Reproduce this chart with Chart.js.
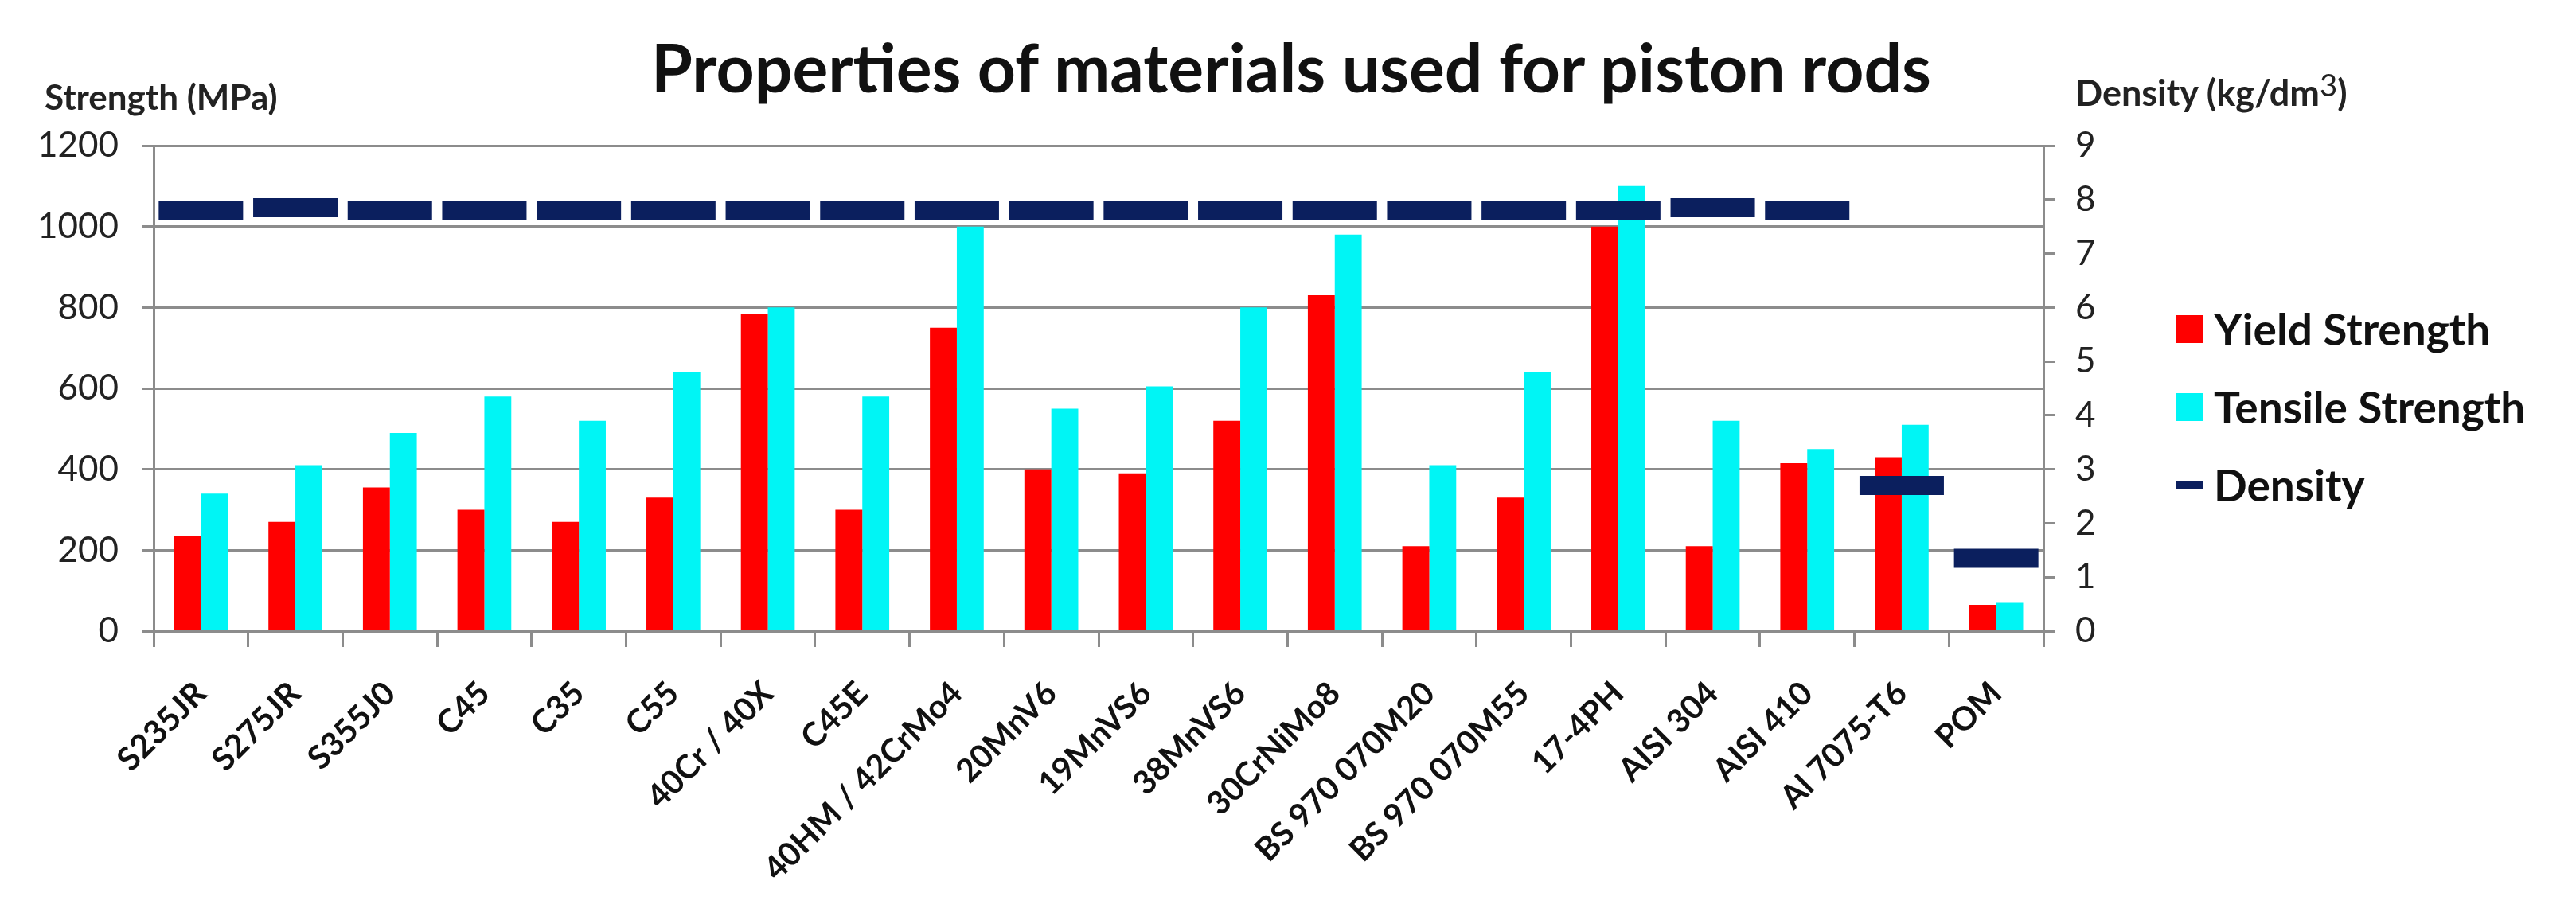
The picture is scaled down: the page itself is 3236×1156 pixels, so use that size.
<!DOCTYPE html>
<html>
<head>
<meta charset="utf-8">
<script src="https://cdn.jsdelivr.net/npm/chart.js@4.4.1/dist/chart.umd.min.js"></script>
<style>
  html, body { margin: 0; padding: 0; background: #fff; }
  #wrap { position: relative; width: 3236px; height: 1156px; font-family: Lato, "Noto Sans", sans-serif; color: #111; }
  #chart { position: absolute; left: 0; top: 0; }
  .lbl { position: absolute; white-space: nowrap; line-height: 1; transform: translateY(-50%); }
  #title { left: 1622px; top: 84px; font-size: 84px; font-weight: bold; transform: translate(-50%, -50%); }
  #yTitle { left: 56px; top: 121px; font-size: 44px; font-weight: bold; color: #222; }
  #y1Title { left: 2607px; top: 116px; font-size: 45px; font-weight: bold; color: #222; }
  #y1Title sup { font-size: 0.85em; vertical-align: 0.3em; line-height: 0; font-weight: normal; }
  .leg { position: absolute; left: 2734px; height: 40px; transform: translateY(-50%); display: flex; align-items: center; }
  .leg span.sw { display: inline-block; margin-right: 14px; }
  .leg span.tx { font-size: 55px; font-weight: bold; line-height: 1; }
</style>
</head>
<body>
<div id="wrap">
  <canvas id="chart" width="3236" height="1156"></canvas>
  <div id="title" class="lbl">Properties of materials used for piston rods</div>
  <div id="yTitle" class="lbl">Strength (MPa)</div>
  <div id="y1Title" class="lbl">Density (kg/dm<sup>3</sup>)</div>
  <div class="leg" style="top:413px"><span class="sw" style="width:33px;height:35px;background:#ff0000"></span><span class="tx">Yield Strength</span></div>
  <div class="leg" style="top:511px"><span class="sw" style="width:33px;height:35px;background:#00f5f5"></span><span class="tx">Tensile Strength</span></div>
  <div class="leg" style="top:609px"><span class="sw" style="width:33px;height:10px;background:#0b1f5e"></span><span class="tx">Density</span></div>
</div>
<script>
// materials and measured values
const materials = ['S235JR', 'S275JR', 'S355J0', 'C45', 'C35', 'C55', '40Cr / 40X', 'C45E',
  '40HM / 42CrMo4', '20MnV6', '19MnVS6', '38MnVS6', '30CrNiMo8', 'BS 970 070M20',
  'BS 970 070M55', '17-4PH', 'AISI 304', 'AISI 410', 'Al 7075-T6', 'POM'];
const yieldStrength = [235, 270, 355, 300, 270, 330, 785, 300, 750, 400, 390, 520, 830, 210, 330, 1000, 210, 415, 430, 65];
const tensileStrength = [340, 410, 490, 580, 520, 640, 800, 580, 1000, 550, 605, 800, 980, 410, 640, 1100, 520, 450, 510, 70];
const density = [7.8, 7.85, 7.8, 7.8, 7.8, 7.8, 7.8, 7.8, 7.8, 7.8, 7.8, 7.8, 7.8, 7.8, 7.8, 7.8, 7.85, 7.8, 2.7, 1.35];
const strengthTicks = [0, 200, 400, 600, 800, 1000, 1200];
const densityTicks = [0, 1, 2, 3, 4, 5, 6, 7, 8, 9];

const gridGrey = '#8c8c8c';

document.addEventListener('DOMContentLoaded', () => {
  const ctx = document.getElementById('chart').getContext('2d');
  new Chart(ctx, {
    data: {
      labels: materials,
      datasets: [
        {
          type: 'line',
          label: 'Density',
          data: density,
          yAxisID: 'y1',
          showLine: false,
          pointStyle: 'line',
          pointRadius: 53,
          pointHoverRadius: 53,
          pointBorderWidth: 24,
          pointBorderColor: '#0b1f5e',
          pointBackgroundColor: '#0b1f5e',
          clip: false,
          order: 0
        },
        {
          type: 'bar',
          label: 'Yield Strength',
          data: yieldStrength,
          yAxisID: 'y',
          backgroundColor: '#ff0000',
          categoryPercentage: 0.57,
          barPercentage: 1,
          order: 1
        },
        {
          type: 'bar',
          label: 'Tensile Strength',
          data: tensileStrength,
          yAxisID: 'y',
          backgroundColor: '#00f5f5',
          categoryPercentage: 0.57,
          barPercentage: 1,
          order: 1
        }
      ]
    },
    options: {
      responsive: false,
      animation: false,
      devicePixelRatio: 1,
      layout: { padding: { left: 0, right: 519, top: 183, bottom: 0 } },
      plugins: {
        legend: { display: false },
        title: { display: false },
        tooltip: { enabled: false }
      },
      scales: {
        x: {
          offset: true,
          grid: { offset: true, drawOnChartArea: false, tickLength: 20, color: gridGrey, lineWidth: 3 },
          border: { color: gridGrey, width: 3 },
          ticks: {
            autoSkip: false,
            minRotation: 45,
            maxRotation: 45,
            padding: 34,
            color: '#111',
            font: { family: 'Lato', size: 41, weight: 'bold' }
          },
          afterFit: (s) => { s.height = 1156 - 793; }
        },
        y: {
          position: 'left',
          min: 0,
          max: 1200,
          afterBuildTicks: (s) => { s.ticks = strengthTicks.map(v => ({ value: v })); },
          grid: { color: gridGrey, lineWidth: 3, tickLength: 14 },
          border: { color: gridGrey, width: 3 },
          ticks: { padding: 30, color: '#222', font: { family: 'Lato', size: 44 }, callback: (v) => String(v) },
          afterFit: (s) => { s.width = 193; }
        },
        y1: {
          position: 'right',
          min: 0,
          max: 9,
          afterBuildTicks: (s) => { s.ticks = densityTicks.map(v => ({ value: v })); },
          grid: { drawOnChartArea: false, color: gridGrey, lineWidth: 3, tickLength: 14 },
          border: { color: gridGrey, width: 3 },
          ticks: { padding: 26, color: '#222', font: { family: 'Lato', size: 44 }, callback: (v) => String(v) },
          afterFit: (s) => { s.width = 150; }
        }
      }
    }
  });
});
</script>
</body>
</html>
